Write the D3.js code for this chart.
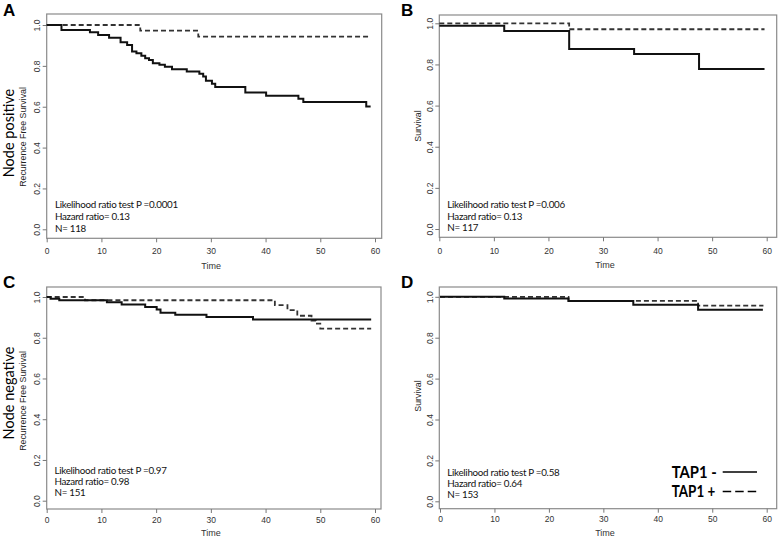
<!DOCTYPE html>
<html><head><meta charset="utf-8">
<script src="https://cdn.jsdelivr.net/npm/d3@7"></script>
<style>body{margin:0;background:#fff}svg{display:block}</style>
</head><body>
<svg id="c" width="778" height="537"></svg>
<script>
// ---- data ----
const timeTicks = [0, 10, 20, 30, 40, 50, 60];
const survTicks = [0, 0.2, 0.4, 0.6, 0.8, 1.0];
const survTickLabels = ["0.0", "0.2", "0.4", "0.6", "0.8", "1.0"];
const seriesNames = ["TAP1 -", "TAP1 +"];

// Panel A: node positive, recurrence free survival
const aNegTime = [0, 2.7, 7.9, 9.4, 11.4, 13.5, 14.7, 15.6, 16.4, 17.3, 18.0, 18.7, 19.4, 20.6, 21.6, 22.9, 25.6, 27.9, 28.6, 29.1, 30.2, 30.8, 36.3, 40.1, 46.0, 46.9, 58.4, 59.2];
const aNegSurv = [1, 0.976, 0.964, 0.951, 0.938, 0.915, 0.902, 0.870, 0.862, 0.849, 0.837, 0.829, 0.813, 0.805, 0.796, 0.784, 0.772, 0.761, 0.748, 0.727, 0.712, 0.696, 0.670, 0.654, 0.639, 0.623, 0.601, 0.601];
const aPosTime = [0, 17.1, 27.7, 59.2];
const aPosSurv = [1, 0.972, 0.943, 0.943];

// Panel B: node positive, survival
const bNegTime = [0, 11.9, 23.8, 35.7, 47.6, 59.6];
const bNegSurv = [0.988, 0.962, 0.875, 0.851, 0.778, 0.778];
const bPosTime = [0, 23.8, 59.6];
const bPosSurv = [1, 0.971, 0.971];

// Panel C: node negative, recurrence free survival
const cNegTime = [0, 0.7, 2.3, 11.0, 13.7, 18.0, 20.1, 20.8, 23.5, 29.2, 37.7, 59.3];
const cNegSurv = [1, 0.992, 0.984, 0.974, 0.963, 0.951, 0.939, 0.923, 0.913, 0.902, 0.890, 0.890];
const cPosTime = [0, 7.0, 41.7, 44.0, 45.8, 48.4, 49.2, 50.0, 59.3];
const cPosSurv = [1, 0.984, 0.960, 0.936, 0.908, 0.884, 0.869, 0.845, 0.845];

// Panel D: node negative, survival
const dNegTime = [0, 11.8, 23.6, 35.5, 47.4, 59.3];
const dNegSurv = [1, 0.992, 0.980, 0.961, 0.937, 0.937];
const dPosTime = [0, 23.6, 47.4, 59.4];
const dPosSurv = [1, 0.980, 0.957, 0.957];

const panelLetters = ["A", "B", "C", "D"];
const yLabels = ["Recurrence Free Survival", "Survival", "Recurrence Free Survival", "Survival"];
const statsText = [
  ["Likelihood ratio test P =0.0001", "Hazard ratio= 0.13", "N= 118"],
  ["Likelihood ratio test P =0.006", "Hazard ratio= 0.13", "N= 117"],
  ["Likelihood ratio test P =0.97", "Hazard ratio= 0.98", "N= 151"],
  ["Likelihood ratio test P =0.58", "Hazard ratio= 0.64", "N= 153"]
];
const rowLabels = ["Node positive", "Node negative"];

// ---- layout ----
const panels = [
  {box:[46.7,381.7,14,238.3], x:[46.7,375], y:[229.3,25], neg:[aNegTime,aNegSurv], pos:[aPosTime,aPosSurv],
   letter:[3,16], ylab:[26,137], ytick:36.5, xlab:254.5, time:269, stats:[55,207.5,12.4]},
  {box:[439.3,776.7,15,237.3], x:[439.3,766.7], y:[229,23.3], neg:[bNegTime,bNegSurv], pos:[bPosTime,bPosSurv],
   letter:[401,16], ylab:[421,126], ytick:429.5, xlab:254, time:268, stats:[447.3,208,11.7]},
  {box:[46.7,381,287,509], x:[46.7,375], y:[500.7,297], neg:[cNegTime,cNegSurv], pos:[cPosTime,cPosSurv],
   letter:[3,288], ylab:[26,401], ytick:36.5, xlab:523, time:536, stats:[54.5,474,11.2]},
  {box:[439.3,776.7,287,508.7], x:[440,766.7], y:[501.3,296.8], neg:[dNegTime,dNegSurv], pos:[dPosTime,dPosSurv],
   letter:[401,288], ylab:[421,396], ytick:429.5, xlab:522, time:536, stats:[447.3,475.5,11.3]}
];

const svg = d3.select("#c");
const tickFont = "Liberation Sans, Arial, sans-serif";
const textFont = "Lato, 'Open Sans', sans-serif";

panels.forEach((p, i) => {
  const g = svg.append("g");
  const xs = d3.scaleLinear().domain([0, 60]).range(p.x);
  const ys = d3.scaleLinear().domain([0, 1]).range(p.y);
  const [bx0, bx1, by0, by1] = p.box;

  // box
  g.append("rect").attr("x", bx0).attr("y", by0).attr("width", bx1 - bx0).attr("height", by1 - by0)
    .attr("fill", "none").attr("stroke", "#8a8a8a").attr("stroke-width", 1.2);

  // x axis
  const xAxis = g.append("g").attr("transform", `translate(0,${by1})`)
    .call(d3.axisBottom(xs).tickValues(timeTicks).tickSize(4).tickPadding(3).tickFormat(d3.format("d")));
  xAxis.select(".domain").remove();
  xAxis.selectAll("line").attr("stroke", "#777");
  xAxis.selectAll("text").attr("font-family", tickFont).attr("font-size", 8.5).attr("fill", "#333")
    .attr("dy", null).attr("y", p.xlab - by1);

  // y axis
  const yAxis = g.append("g").attr("transform", `translate(${bx0},0)`)
    .call(d3.axisLeft(ys).tickValues(survTicks).tickSize(4).tickFormat((d, k) => survTickLabels[k]));
  yAxis.select(".domain").remove();
  yAxis.selectAll("line").attr("stroke", "#777");
  yAxis.selectAll(".tick text").attr("font-family", tickFont).attr("font-size", 8.5).attr("fill", "#333")
    .attr("x", 0).attr("y", 0).attr("dy", 0).attr("text-anchor", "middle")
    .attr("transform", `translate(${p.ytick - bx0 + 3},0) rotate(-90)`);

  // axis titles
  g.append("text").attr("x", (p.box[0] + p.box[1]) / 2 - 3).attr("y", p.time)
    .attr("text-anchor", "middle").attr("font-family", tickFont).attr("font-size", 9).attr("fill", "#333").text("Time");
  g.append("text").attr("transform", `translate(${p.ylab[0]},${p.ylab[1]}) rotate(-90)`)
    .attr("text-anchor", "middle").attr("font-family", tickFont).attr("font-size", 8.8).attr("fill", "#222")
    .text(yLabels[i]);

  // panel letter
  g.append("text").attr("x", p.letter[0]).attr("y", p.letter[1]).attr("font-family", "Liberation Sans, Arial, sans-serif")
    .attr("font-weight", "bold").attr("font-size", 17).attr("fill", "#000").text(panelLetters[i]);

  // curves
  const step = d3.line().x(d => xs(d[0])).y(d => ys(d[1])).curve(d3.curveStepAfter);
  const toPts = (t, s) => t.map((v, k) => [v, s[k]]);
  g.append("path").attr("d", step(toPts(p.pos[0], p.pos[1]))).attr("fill", "none")
    .attr("stroke", "#333").attr("stroke-width", 1.8).attr("stroke-dasharray", "5,3");
  g.append("path").attr("d", step(toPts(p.neg[0], p.neg[1]))).attr("fill", "none")
    .attr("stroke", "#111").attr("stroke-width", 2);

  // stats text
  statsText[i].forEach((t, k) => {
    g.append("text").attr("x", p.stats[0]).attr("y", p.stats[1] + k * p.stats[2])
      .attr("font-family", textFont).attr("font-size", 9.8).attr("letter-spacing", "-0.3px")
      .attr("fill", "#111").text(t);
  });
});

// row labels
svg.append("text").attr("transform", "translate(14,133) rotate(-90)").attr("text-anchor", "middle")
  .attr("font-family", textFont).attr("font-size", 14.5).attr("fill", "#000").text(rowLabels[0]);
svg.append("text").attr("transform", "translate(14,393) rotate(-90)").attr("text-anchor", "middle")
  .attr("font-family", textFont).attr("font-size", 14.5).attr("fill", "#000").text(rowLabels[1]);

// legend in panel D
const leg = svg.append("g");
const legY = [477.5, 497];
const legLen = [45, 43.5];
seriesNames.forEach((n, k) => {
  leg.append("text").attr("x", 671.7).attr("y", legY[k]).attr("font-family", textFont)
    .attr("font-weight", "bold").attr("font-size", 17)
    .attr("textLength", legLen[k]).attr("lengthAdjust", "spacingAndGlyphs")
    .attr("fill", "#000").text(n);
  leg.append("line").attr("x1", 722.7).attr("x2", 757).attr("y1", legY[k] - 5.5).attr("y2", legY[k] - 5.5)
    .attr("stroke", "#000").attr("stroke-width", 1.6).attr("stroke-dasharray", k === 0 ? null : "8.5,4");
});
</script>
</body></html>
